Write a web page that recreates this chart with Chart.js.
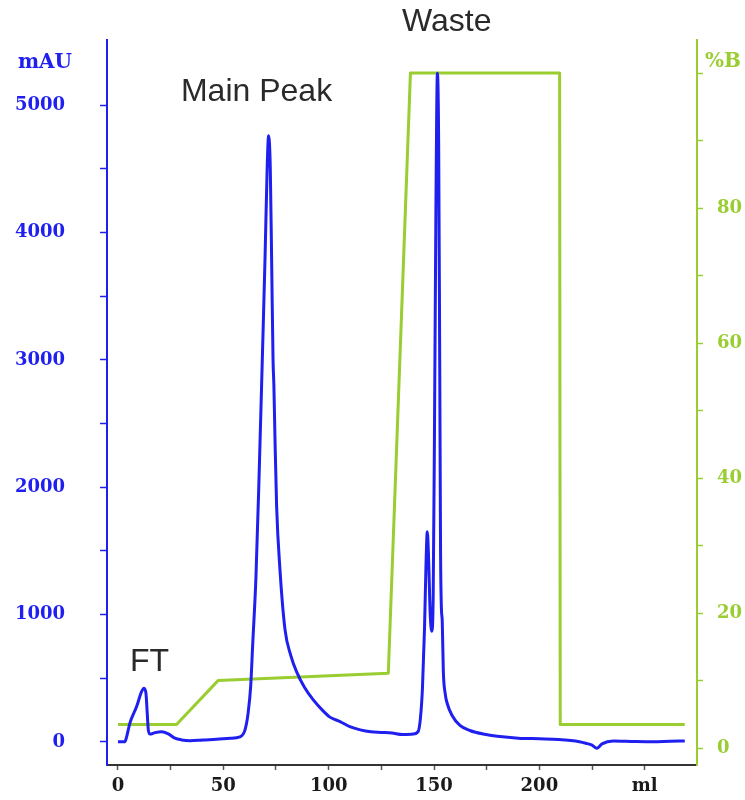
<!DOCTYPE html>
<html>
<head>
<meta charset="utf-8">
<script src="https://cdn.jsdelivr.net/npm/chart.js@4.4.1/dist/chart.umd.min.js"></script>
<style>
  body { margin: 0; background: #fff; }
  #wrap { width: 745px; height: 800px; }
</style>
</head>
<body>
<div id="wrap"><canvas id="chromChart" width="745" height="800"></canvas></div>
<script>
// UV trace, volume (ml) and absorbance (mAU)
const uvMl = [0, 3.3, 4.1, 5.7, 8.9, 11.2, 12.4, 13.3, 13.9, 14.4, 15.2, 17.6, 20.7, 23.9, 27, 30.2, 34.2, 40.5, 46.8, 53.2,
  57.9, 60.3, 61.8, 63.0, 63.9, 65.5, 67, 68.5, 69.8, 70.8, 71.5, 72.3, 73.0, 73.6, 74.0, 74.5, 75.3, 76.9, 79.3, 82,
  84.8, 88.5, 92.7, 97, 100.6, 105.4, 110, 115, 120, 125, 130, 135, 140, 142.4, 143.5, 144.5, 145.5, 146.2, 146.8, 147.4,
  148.2, 149.0, 149.6, 150.2, 150.9, 151.6, 152.2, 152.7, 153.1, 153.5, 153.9, 154.4, 155.3, 156.3, 158.5, 162.3, 167, 174, 180, 190,
  200, 209, 215, 219, 222, 225, 227.3, 229.7, 235, 245, 254, 262, 269];
const uvMau = [2, 2, 40, 150, 280, 395, 422, 380, 225, 95, 62, 73, 80, 63, 30, 16, 10, 16, 21, 29,
  40, 95, 230, 440, 750, 1300, 2100, 3000, 3800, 4500, 4760, 4500, 3700, 3000, 2800, 2400, 1850, 1350, 880, 680,
  550, 430, 330, 250, 195, 160, 120, 95, 80, 75, 70, 58, 62, 80, 180, 420, 900, 1400, 1650, 1450,
  1000, 870, 1150, 2400, 4200, 5250, 4700, 3000, 1500, 1050, 950, 560, 380, 300, 210, 130, 90, 60, 45, 30,
  25, 20, 12, 2, -10, -25, -50, -15, 8, 4, 2, 6, 8];

// gradient, volume (ml) and %B
const gradMl = [0, 27.8, 47.5, 128.3, 138.8, 209.6, 209.9, 269];
const gradB = [3.5, 3.5, 10, 11.1, 100, 100, 3.5, 3.5];

// axis ticks
const mlTicks = [0, 25, 50, 75, 100, 125, 150, 175, 200, 225, 250];
const mauTicks = [0, 500, 1000, 1500, 2000, 2500, 3000, 3500, 4000, 4500, 5000];
const bTicks = [0, 10, 20, 30, 40, 50, 60, 70, 80, 90, 100];

const BLUE = '#1f1ff0';
const GREEN = '#9acd32';
const tickFont = { family: 'DejaVu Serif', size: 18, weight: 'bold' };

// peak names, anchored in data units
const notes = [
  { text: 'FT', ml: 5.7, mau: 559 },
  { text: 'Main Peak', ml: 29.9, mau: 5031 },
  { text: 'Waste', ml: 134.8, mau: 5583 }
];

const textPlugin = {
  id: 'chromText',
  afterDraw(chart) {
    const { ctx, chartArea, scales } = chart;
    ctx.save();
    ctx.font = 'bold 20px "DejaVu Serif"';
    ctx.textBaseline = 'alphabetic';
    ctx.fillStyle = BLUE;
    ctx.textAlign = 'right';
    ctx.fillText('mAU', chartArea.left - 35, chartArea.top + 28);
    ctx.fillStyle = GREEN;
    ctx.textAlign = 'left';
    ctx.fillText('%B', chartArea.right + 8, chartArea.top + 27);

    ctx.font = '32px "Liberation Sans"';
    ctx.fillStyle = '#2a2a2a';
    notes.forEach(n => {
      ctx.fillText(n.text, scales.x.getPixelForValue(n.ml), scales.y.getPixelForValue(n.mau));
    });
    ctx.restore();
  }
};

// fixed axis boxes, no label overhang padding
function fixVertical(width) {
  return s => { s.width = width; s.paddingTop = 0; s.paddingBottom = 0; };
}

const ctx = document.getElementById('chromChart').getContext('2d');
new Chart(ctx, {
  type: 'line',
  data: {
    datasets: [
      {
        label: 'UV',
        data: uvMl.map((v, i) => ({ x: v, y: uvMau[i] })),
        yAxisID: 'y',
        borderColor: BLUE,
        borderWidth: 3,
        pointRadius: 0,
        cubicInterpolationMode: 'monotone',
        fill: false
      },
      {
        label: '%B',
        data: gradMl.map((v, i) => ({ x: v, y: gradB[i] })),
        yAxisID: 'y1',
        borderColor: GREEN,
        borderWidth: 3,
        borderJoinStyle: 'round',
        pointRadius: 0,
        tension: 0,
        fill: false
      }
    ]
  },
  options: {
    responsive: false,
    animation: false,
    layout: { padding: { top: 40, left: 0, right: 0, bottom: 0 } },
    plugins: {
      legend: { display: false },
      tooltip: { enabled: false }
    },
    scales: {
      x: {
        type: 'linear',
        position: 'bottom',
        min: -5.2,
        max: 274.8,
        afterBuildTicks: s => { s.ticks = mlTicks.map(v => ({ value: v })); },
        afterFit: s => { s.height = 35; s.paddingLeft = 0; s.paddingRight = 0; },
        border: { color: '#333', width: 2 },
        grid: { drawOnChartArea: false, tickLength: 5, color: '#555', tickWidth: 1.5 },
        ticks: {
          autoSkip: false,
          maxRotation: 0,
          padding: 6,
          color: '#1a1a1a',
          font: tickFont,
          callback: v => (v === 250 ? 'ml' : (v % 50 === 0 ? v : ''))
        }
      },
      y: {
        type: 'linear',
        position: 'left',
        min: -181,
        max: 5512,
        afterBuildTicks: s => { s.ticks = mauTicks.map(v => ({ value: v })); },
        afterFit: fixVertical(107),
        border: { color: BLUE, width: 2 },
        grid: { drawOnChartArea: false, tickLength: 7, color: BLUE, tickWidth: 1.5 },
        ticks: {
          autoSkip: false,
          padding: 35,
          color: BLUE,
          font: tickFont,
          callback: v => (v % 1000 === 0 ? v : '')
        }
      },
      y1: {
        type: 'linear',
        position: 'right',
        min: -2.5,
        max: 104.9,
        afterBuildTicks: s => { s.ticks = bTicks.map(v => ({ value: v })); },
        afterFit: fixVertical(48),
        border: { color: GREEN, width: 2 },
        grid: { drawOnChartArea: false, tickLength: 6, color: GREEN, tickWidth: 1.5 },
        ticks: {
          autoSkip: false,
          padding: 14,
          color: GREEN,
          font: tickFont,
          callback: v => (v % 20 === 0 && v !== 100 ? v : '')
        }
      }
    }
  },
  plugins: [textPlugin]
});
</script>
</body>
</html>
